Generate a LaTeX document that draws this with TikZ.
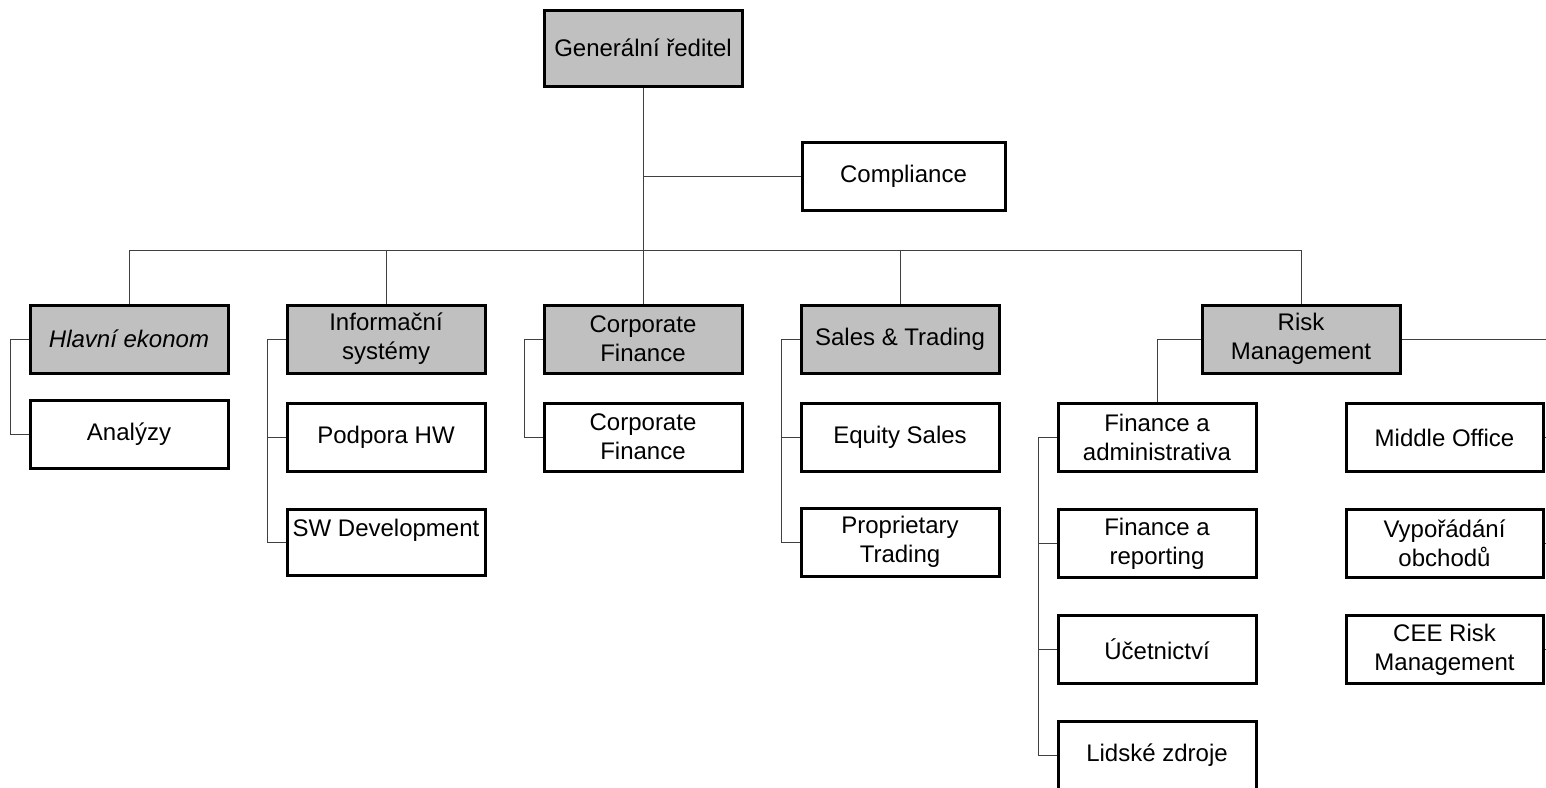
\documentclass[tikz,border=0pt]{standalone}
\usepackage{fontspec}
\setmainfont{Liberation Sans}
\definecolor{headgray}{HTML}{C0C0C0}

\begin{document}
\begin{tikzpicture}[x=0.5pt,y=-0.5pt,
	box/.style={draw=black,line width=1.5pt,minimum width=99pt,minimum height=34pt,inner sep=0pt,align=center,font=\fontsize{12}{14.5}\selectfont},
	head/.style={box,fill=headgray},
	link/.style={line width=0.5pt,black!75}]
	\useasboundingbox (0,0) rectangle (1546,787);
	\clip (0,0) rectangle (1546,787);

	% top
	\node[head,minimum height=38pt] (ceo) at (643,48) {Generální ředitel};
	\node[box,minimum width=101.5pt] (comp) at (903.5,176.5) {Compliance};
	\coordinate (bus) at (643,250);
	\coordinate (offR) at (1560,0);

	% departments
	\node[head,font=\fontsize{12}{14.5}\selectfont\itshape] (hlavni) at (129,339) {Hlavní ekonom};
	\node[head] (info) at (386,339) {Informační\\systémy};
	\node[head] (corp) at (643,339) {Corporate\\Finance};
	\node[head] (sales) at (900,339) {Sales \& Trading};
	\node[head] (risk) at (1301,339) {Risk\\Management};

	% units
	\node[box] (analyzy) at (129,434) {Analýzy};
	\node[box] (hw) at (386,437.5) {Podpora HW};
	\node[box,minimum height=33pt] (swdev) at (386,542) {SW Development\\\mbox{}};
	\node[box] (corpfin) at (643,437) {Corporate\\Finance};
	\node[box] (equity) at (900,437) {Equity Sales};
	\node[box] (prop) at (900,542) {Proprietary\\Trading};
	\node[box] (finadm) at (1157,437.5) {Finance a\\administrativa};
	\node[box] (finrep) at (1157,543.5) {Finance a\\reporting};
	\node[box] (ucet) at (1157,649) {Účetnictví};
	\node[box] (lidske) at (1157,755) {Lidské zdroje};
	\node[box,minimum width=98.5pt] (middle) at (1444.5,437.5) {Middle Office};
	\node[box,minimum width=98.5pt] (vypo) at (1444.5,543.5) {Vypořádání\\obchodů};
	\node[box,minimum width=98.5pt] (cee) at (1444.5,649.5) {CEE Risk\\Management};

	\draw[link] (ceo) -- (bus);
	\draw[link] (ceo |- comp) -- (comp);
	\foreach \n in {hlavni,info,corp,sales,risk}
		\draw[link] (bus) -| (\n);

	\foreach \p/\c in {hlavni/analyzy,info/hw,info/swdev,corp/corpfin,sales/equity,sales/prop,finadm/finrep,finadm/ucet,finadm/lidske}
		\draw[link] (\p.west) -- ++(-18,0) |- (\c.west);

	\draw[link] (risk) -| (finadm);
	\draw[link] (risk) -- (risk -| offR);
	\foreach \n in {middle,vypo,cee}
		\draw[link] (\n) -- (\n -| offR);
\end{tikzpicture}
\end{document}
